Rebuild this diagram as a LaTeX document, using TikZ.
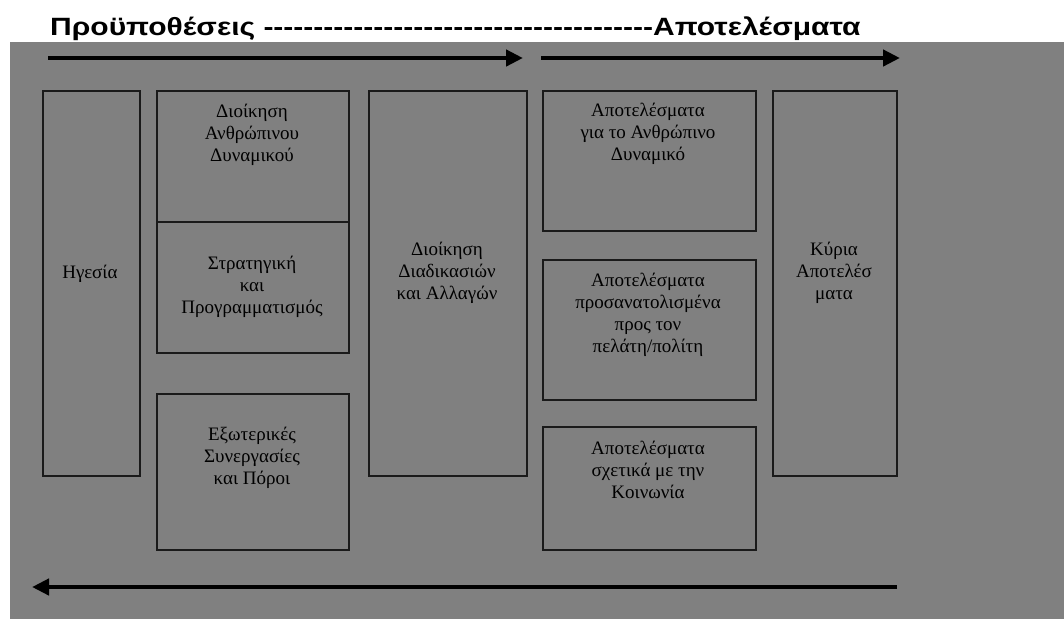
\documentclass[tikz,border=0pt]{standalone}
\usepackage{fontspec}
\setmainfont{Liberation Serif}
\newfontfamily\headfont[FakeStretch=1.2]{Liberation Sans}
\usetikzlibrary{arrows.meta}

\definecolor{panelgray}{HTML}{808080}
\definecolor{inkline}{HTML}{1A1A1A}

\tikzset{
  box/.style={draw=inkline, line width=2pt, fill=panelgray, inner sep=0pt, anchor=north west},
  boxtext/.style={align=center, inner sep=0pt, text=black,
    font=\fontsize{19}{22}\selectfont},
  flow/.style={line width=4.5pt, draw=black,
    -{Triangle[length=17pt,width=16pt]}},
  headline/.style={inner sep=0pt, anchor=base west,
    font=\headfont\bfseries\fontsize{25}{30}\selectfont}
}

\begin{document}
\begin{tikzpicture}[x=1pt, y=-1pt]
  \useasboundingbox (0,0) rectangle (1064,619);
  % background panel
  \fill[panelgray] (10,42) rectangle (1064,619);

  % heading
  \node[headline] (head) at (50,35) {Προϋποθέσεις ---------------------------------------Αποτελέσματα};

  % flow arrows
  \coordinate (f1a) at (48,58);
  \coordinate (f1b) at (523,58);
  \coordinate (f2a) at (541,58);
  \coordinate (f2b) at (900,58);
  \coordinate (f3a) at (897,587);
  \coordinate (f3b) at (32,587);
  \draw[flow] (f1a) -- (f1b);
  \draw[flow] (f2a) -- (f2b);
  \draw[flow] (f3a) -- (f3b);

  % enablers
  \node[box, minimum width=97pt,  minimum height=385pt] (lead)  at (42,90)  {};
  \node[box, minimum width=192pt, minimum height=131pt] (hr)    at (156,90) {};
  \node[box, minimum width=192pt, minimum height=131pt] (strat) at (156,221) {};
  \node[box, minimum width=192pt, minimum height=156pt] (ext)   at (156,393) {};
  \node[box, minimum width=158pt, minimum height=385pt] (proc)  at (368,90) {};

  % results
  \node[box, minimum width=213pt, minimum height=140pt] (res1) at (542,90)  {};
  \node[box, minimum width=213pt, minimum height=140pt] (res2) at (542,259) {};
  \node[box, minimum width=213pt, minimum height=123pt] (res3) at (542,426) {};
  \node[box, minimum width=124pt, minimum height=385pt] (key)  at (772,90)  {};

  % labels
  \node[boxtext] (leadT)  at (90,274)  {Ηγεσία};
  \node[boxtext] (hrT)    at (252,135) {Διοίκηση\\Ανθρώπινου\\Δυναμικού};
  \node[boxtext] (stratT) at (252,287) {Στρατηγική\\και\\Προγραμματισμός};
  \node[boxtext] (extT)   at (252,458) {Εξωτερικές\\Συνεργασίες\\και Πόροι};
  \node[boxtext] (procT)  at (447,273) {Διοίκηση\\Διαδικασιών\\και Αλλαγών};
  \node[boxtext] (res1T)  at (648,134) {Αποτελέσματα\\για το Ανθρώπινο\\Δυναμικό};
  \node[boxtext] (res2T)  at (648,315) {Αποτελέσματα\\προσανατολισμένα\\προς τον\\πελάτη/πολίτη};
  \node[boxtext] (res3T)  at (648,470) {Αποτελέσματα\\σχετικά με την\\Κοινωνία};
  \node[boxtext] (keyT)   at (834,273) {Κύρια\\Αποτελέσ\\ματα};
\end{tikzpicture}
\end{document}
